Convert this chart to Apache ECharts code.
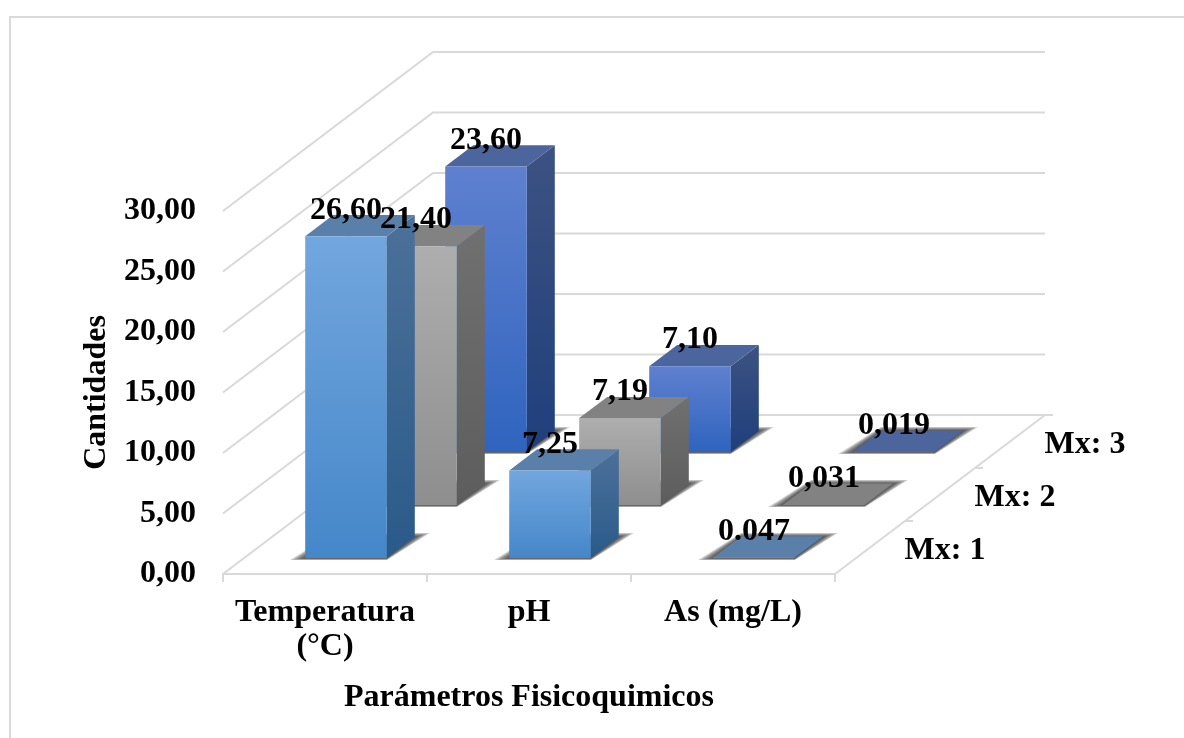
<!DOCTYPE html>
<html>
<head>
<meta charset="utf-8">
<title>Parámetros Fisicoquimicos</title>
<style>
    html, body { margin: 0; padding: 0; background: #fff; }
    #chart { width: 1184px; height: 738px; }
</style>
<script src="https://cdn.jsdelivr.net/npm/echarts@6/dist/echarts.min.js"></script>
</head>
<body>
<div id="chart"></div>
<script>
// 数据
const categories = ['Temperatura\n(°C)', 'pH', 'As (mg/L)']
const depthNames = ['Mx: 1', 'Mx: 2', 'Mx: 3']
const yTicks = [0, 5, 10, 15, 20, 25, 30]
const mx1Values = [26.60, 7.25, 0.047]
const mx2Values = [21.40, 7.19, 0.031]
const mx3Values = [23.60, 7.10, 0.019]
const mx1Labels = ['26,60', '7,25', '0.047']
const mx2Labels = ['21,40', '7,19', '0,031']
const mx3Labels = ['23,60', '7,10', '0,019']

const allValues = [mx1Values, mx2Values, mx3Values]
const allLabels = [mx1Labels, mx2Labels, mx3Labels]

// 每个系列的三个面: 正面渐变, 侧面渐变, 顶面
const barColors = [
    { front: ['#72a6de', '#4587c9'], side: ['#4c7199', '#2a5a8a'], top: '#5a80aa' },
    { front: ['#aeaeae', '#8e8e8e'], side: ['#707070', '#5d5d5d'], top: '#828282' },
    { front: ['#5f80cf', '#2f64be'], side: ['#3d5282', '#1f3f7c'], top: '#4c659d' }
]

// 斜投影: 整个深度方向在屏幕上的位移
const DEPTH_X = 210
const DEPTH_Y = -159
const LINE_COLOR = '#d9d9d9'
const FONT = 'bold 32px "Liberation Serif", "Times New Roman", serif'

const chart = echarts.init(document.getElementById('chart'))

// 轴线之外的三维背景墙
function renderWalls(params, api) {
    const v = api.value(1)
    const bandW = api.size([1, 0])[0]
    const start = api.coord([0, v])
    const end = api.coord([categories.length - 1, v])
    const x0 = start[0] - bandW / 2
    const x1 = end[0] + bandW / 2
    const y = start[1]
    const children = [{
        type: 'polyline',
        shape: { points: [[x0, y], [x0 + DEPTH_X, y + DEPTH_Y], [x1 + DEPTH_X, y + DEPTH_Y]] },
        style: { stroke: LINE_COLOR, lineWidth: 2, fill: null }
    }]
    // 地面右边线和刻度
    if (v === 0) {
        children.push({
            type: 'line',
            shape: { x1: x1, y1: y, x2: x1 + DEPTH_X, y2: y + DEPTH_Y },
            style: { stroke: LINE_COLOR, lineWidth: 2 }
        })
        for (let i = 1; i <= depthNames.length; i++) {
            const tx = x1 + DEPTH_X * i / depthNames.length
            const ty = y + DEPTH_Y * i / depthNames.length
            children.push({
                type: 'line',
                shape: { x1: tx, y1: ty, x2: tx + 8, y2: ty },
                style: { stroke: LINE_COLOR, lineWidth: 2 }
            })
        }
        // 前面轴的刻度
        for (let i = 0; i <= categories.length; i++) {
            const tx = x0 + bandW * i
            children.push({
                type: 'line',
                shape: { x1: tx, y1: y, x2: tx, y2: y + 8 },
                style: { stroke: LINE_COLOR, lineWidth: 2 }
            })
        }
        depthNames.forEach((name, i) => {
            children.push({
                type: 'text',
                style: {
                    text: name,
                    x: x1 + DEPTH_X * (i + 0.5) / depthNames.length + 75,
                    y: y + DEPTH_Y * (i + 0.5) / depthNames.length + 3,
                    align: 'center',
                    verticalAlign: 'middle',
                    font: FONT,
                    fill: '#000'
                }
            })
        })
    }
    return { type: 'group', children: children }
}

// 计算柱子正面的四个角
function barBox(api, cat, depth, value) {
    const bandW = api.size([1, 0])[0]
    const w = bandW * 0.4
    const base = api.coord([cat, 0])
    const top = api.coord([cat, value])
    const shiftX = DEPTH_X * (depth + 0.3) / depthNames.length
    const shiftY = DEPTH_Y * (depth + 0.3) / depthNames.length
    return {
        left: base[0] - w / 2 + shiftX,
        right: base[0] + w / 2 + shiftX,
        bottom: base[1] + shiftY,
        top: top[1] + shiftY,
        dx: DEPTH_X * 0.4 / depthNames.length,
        dy: DEPTH_Y * 0.4 / depthNames.length
    }
}

function gradient(pair) {
    return new echarts.graphic.LinearGradient(0, 0, 0, 1, [
        { offset: 0, color: pair[0] },
        { offset: 1, color: pair[1] }
    ])
}

// 地面阴影: 叠几层半透明多边形做出柔和的边缘
function shadowLayers(b) {
    const layers = []
    for (let k = 5; k >= 0; k--) {
        const e = 3 * k
        layers.push({
            type: 'polygon',
            shape: {
                points: [
                    [b.left - e, b.bottom + 0.4 * k],
                    [b.right, b.bottom + 0.4 * k],
                    [b.right + b.dx + e, b.bottom + b.dy - 0.8 * k],
                    [b.left + b.dx, b.bottom + b.dy - 0.8 * k]
                ]
            },
            style: { fill: 'rgba(40,40,40,0.24)' }
        })
    }
    return layers
}

function renderBar(params, api) {
    const cat = api.value(0)
    const value = api.value(1)
    const depth = api.value(2)
    const c = barColors[depth]
    const b = barBox(api, cat, depth, value)
    return {
        type: 'group',
        children: shadowLayers(b).concat([
            {
                type: 'polygon',
                shape: {
                    points: [
                        [b.right, b.top],
                        [b.right + b.dx, b.top + b.dy],
                        [b.right + b.dx, b.bottom + b.dy],
                        [b.right, b.bottom]
                    ]
                },
                style: { fill: gradient(c.side) }
            },
            {
                type: 'polygon',
                shape: {
                    points: [
                        [b.left, b.top],
                        [b.left + b.dx, b.top + b.dy],
                        [b.right + b.dx, b.top + b.dy],
                        [b.right, b.top]
                    ]
                },
                style: { fill: c.top }
            },
            {
                type: 'rect',
                shape: { x: b.left, y: b.top, width: b.right - b.left, height: b.bottom - b.top },
                style: { fill: gradient(c.front) }
            }
        ])
    }
}

function renderLabel(params, api) {
    const cat = api.value(0)
    const value = api.value(1)
    const depth = api.value(2)
    const b = barBox(api, cat, depth, value)
    return {
        type: 'text',
        style: {
            text: allLabels[depth][cat],
            x: (b.left + b.right) / 2,
            y: b.top - 26,
            align: 'center',
            verticalAlign: 'middle',
            font: FONT,
            fill: '#000'
        }
    }
}

// 从后往前画, 后面的系列先画
const barSeries = [2, 1, 0].map(depth => ({
    type: 'custom',
    name: depthNames[depth],
    renderItem: renderBar,
    encode: { x: 0, y: 1 },
    silent: true,
    data: allValues[depth].map((v, i) => [i, v, depth])
}))

const labelData = []
allValues.forEach((values, depth) => {
    values.forEach((v, i) => labelData.push([i, v, depth]))
})

const option = {
    backgroundColor: '#fff',
    animation: false,
    graphic: [{
        type: 'polyline',
        shape: { points: [[10, 738], [10, 17], [1184, 17]] },
        style: { stroke: LINE_COLOR, lineWidth: 2, fill: null }
    }],
    grid: { left: 223, top: 211, width: 612, height: 363 },
    xAxis: {
        type: 'category',
        data: categories,
        name: 'Parámetros Fisicoquimicos',
        nameLocation: 'middle',
        nameGap: 108,
        nameTextStyle: { color: '#000', fontFamily: 'Liberation Serif', fontWeight: 'bold', fontSize: 32 },
        axisLine: { lineStyle: { color: LINE_COLOR, width: 2 } },
        axisTick: { show: false },
        axisLabel: {
            color: '#000',
            fontFamily: 'Liberation Serif',
            fontWeight: 'bold',
            fontSize: 32,
            lineHeight: 34,
            margin: 22,
            interval: 0
        }
    },
    yAxis: {
        type: 'value',
        min: 0,
        max: 30,
        interval: 5,
        name: 'Cantidades',
        nameLocation: 'middle',
        nameGap: 109,
        nameTextStyle: { color: '#000', fontFamily: 'Liberation Serif', fontWeight: 'bold', fontSize: 32 },
        axisLine: { show: false },
        axisTick: { show: false },
        splitLine: { show: false },
        axisLabel: {
            color: '#000',
            fontFamily: 'Liberation Serif',
            fontWeight: 'bold',
            fontSize: 32,
            margin: 27,
            padding: [4, 0, 0, 0],
            formatter: v => v.toFixed(2).replace('.', ',')
        }
    },
    series: [
        {
            type: 'custom',
            renderItem: renderWalls,
            encode: { x: 0, y: 1 },
            silent: true,
            data: yTicks.map(v => [0, v])
        },
        ...barSeries,
        {
            type: 'custom',
            renderItem: renderLabel,
            encode: { x: 0, y: 1 },
            silent: true,
            data: labelData
        }
    ]
}
chart.setOption(option)
</script>
</body>
</html>
